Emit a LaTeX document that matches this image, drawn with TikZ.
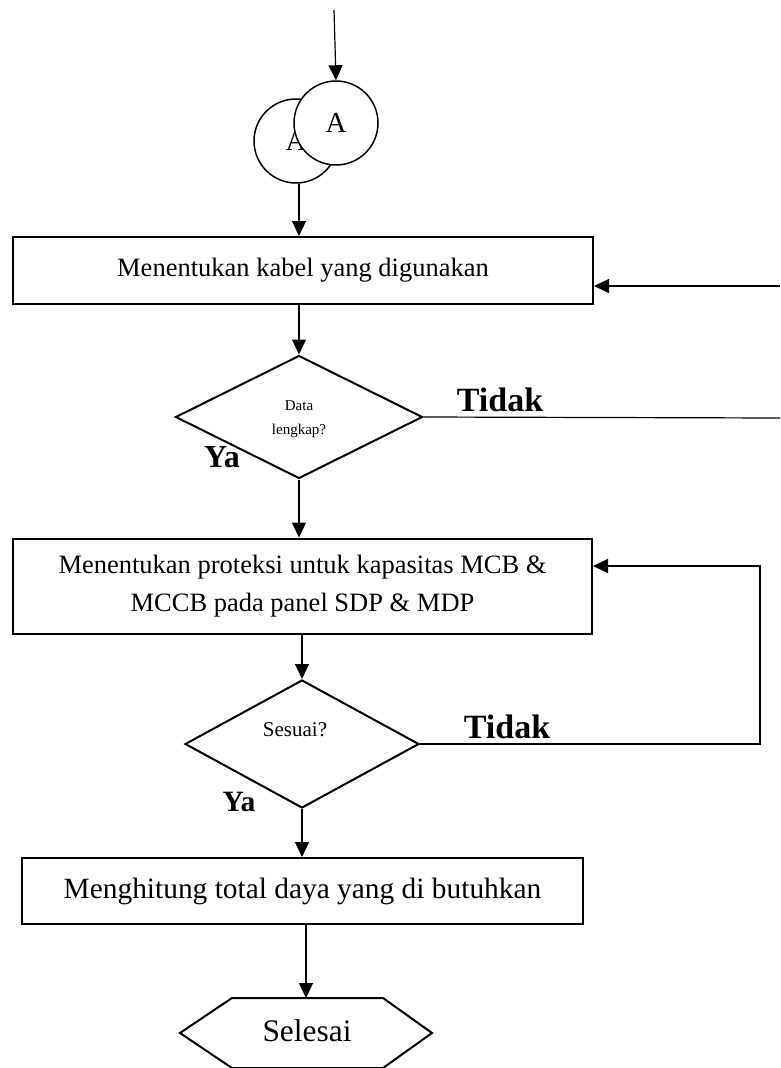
\documentclass[tikz,border=0pt]{standalone}
\usepackage{fontspec}
\setmainfont{Liberation Serif}
\usetikzlibrary{arrows.meta,shapes.geometric}
\begin{document}
\begin{tikzpicture}[x=1pt,y=-1pt,
  box/.style={draw,line width=2pt,inner sep=0pt,minimum width=#1},
  dia/.style={draw,diamond,line width=2pt,inner sep=0pt,minimum width=247pt,minimum height=123pt},
  conn/.style={line width=1.2pt,-{Triangle[length=15pt,width=14pt]}},
  plain/.style={line width=1.2pt},
  circ/.style={draw,circle,line width=1.5pt,inner sep=0pt,minimum size=84pt,fill=white},
  lbl/.style={font=\bfseries\fontsize{#1}{30}\selectfont,inner sep=0pt}]
\useasboundingbox (0,0) rectangle (780,1068);
\coordinate (top) at (334,10);
\node[circ,font=\fontsize{29}{30}\selectfont] (cB) at (296,141) {A};
\node[circ,font=\fontsize{29}{30}\selectfont] (cA) at (336,123) {A};
\node[box=580pt,minimum height=67pt,font=\fontsize{26.5}{28}\selectfont] (b1) at (303,270.5) {Menentukan kabel yang digunakan};
\node[dia] (d1) at (299,417) {};
\node[font=\fontsize{15}{24}\selectfont,align=center] (t1) at (299,419) {Data\\lengkap?};
\node[box=579pt,minimum height=95pt,font=\fontsize{26.5}{38}\selectfont,align=center] (b2) at (302.5,586) {Menentukan proteksi untuk kapasitas MCB \&\\MCCB pada panel SDP \& MDP};
\node[dia,minimum width=234pt,minimum height=128pt] (d2) at (302,744) {};
\node[font=\fontsize{21}{24}\selectfont] (t2) at (295,730) {Sesuai?};
\node[box=561pt,minimum height=66pt,font=\fontsize{29.4}{30}\selectfont] (b3) at (302.5,891) {Menghitung total daya yang di butuhkan};
\coordinate (hx) at (306,998);
\draw[line width=2pt] (232,998) -- (383,998) -- (432,1033) -- (383,1068) -- (232,1068) -- (180,1033) -- cycle;
\node[font=\fontsize{31.4}{32}\selectfont] (sel) at (307,1031) {Selesai};
\node[lbl=34] (tk1) at (500,400) {Tidak};
\node[lbl=34] (tk2) at (507,727) {Tidak};
\node[lbl=32] (ya1) at (222,457) {Ya};
\node[lbl=29.5] (ya2) at (239,802) {Ya};
\coordinate (r1) at (780,286);
\coordinate (r2) at (780,418);
\coordinate (c2) at (760,566);
% connectors
\draw[conn] (top) -- (cA.north);
\draw[conn] ([xshift=3pt]cB.south) -- ([xshift=3pt]cB.south |- b1.north);
\draw[conn] (d1.north |- b1.south) -- (d1.north);
\draw[conn] (d1.south) -- (d1.south |- b2.north);
\draw[conn] (d2.north |- b2.south) -- (d2.north);
\draw[conn] (d2.south) -- (d2.south |- b3.north);
\draw[conn] (hx |- b3.south) -- (hx);
\draw[conn] (r1) -- (r1 -| b1.east);
\draw[plain] (d1.east) -- (r2);
\draw[conn] (d2.east) -- (d2.east -| c2) -- (c2) -- (c2 -| b2.east);
\end{tikzpicture}
\end{document}
